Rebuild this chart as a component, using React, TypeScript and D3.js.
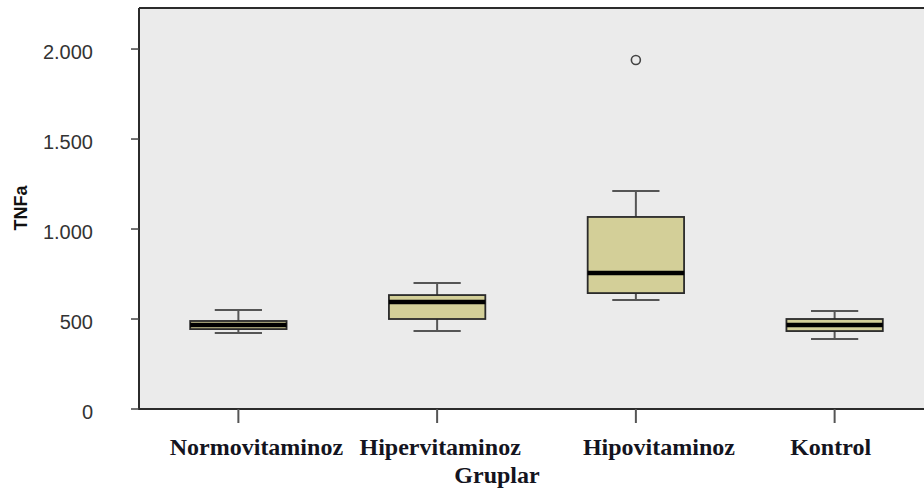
import { useEffect, useRef } from "react";
import * as d3 from "d3";

// group labels and box-plot stats
const groups = ["Normovitaminoz", "Hipervitaminoz", "Hipovitaminoz", "Kontrol"];
const whiskerLow = [422, 433, 606, 389];
const q1 = [444, 500, 644, 433];
const median = [467, 594, 756, 467];
const q3 = [489, 633, 1067, 500];
const whiskerHigh = [550, 700, 1211, 544];
const outliers = [[], [], [1939], []];
const yTicks = [0, 500, 1000, 1500, 2000];

// label nudges so text sits like the original
const labelDx = [18, 3, 23, -4];

const W = 924;
const H = 491;

export default function App() {
  const ref = useRef<SVGSVGElement>(null);

  useEffect(() => {
    document.body.style.margin = "0";
    if (!ref.current) return;
    const svg = d3.select(ref.current);
    svg.selectAll("*").remove();

    const left = 139, right = 934, top = 8, bottom = 409;

    const x = d3.scaleBand<string>().domain(groups).range([left, right]).padding(0);
    const y = d3.scaleLinear().domain([0, 2228]).range([bottom, top]);

    const fmt = (v: number) => d3.format(",")(v).replace(/,/g, ".");

    // plot background
    svg.append("rect")
      .attr("x", left).attr("y", top)
      .attr("width", right - left).attr("height", bottom - top)
      .attr("fill", "#ebebeb");

    // frame lines (top, left, bottom)
    svg.append("line").attr("x1", left).attr("x2", right).attr("y1", top).attr("y2", top)
      .attr("stroke", "#2b2b2b").attr("stroke-width", 2);
    svg.append("line").attr("x1", left).attr("x2", left).attr("y1", top).attr("y2", bottom)
      .attr("stroke", "#2b2b2b").attr("stroke-width", 2);
    svg.append("line").attr("x1", left - 1).attr("x2", right).attr("y1", bottom).attr("y2", bottom)
      .attr("stroke", "#2b2b2b").attr("stroke-width", 2);

    // y ticks
    const yt = svg.append("g");
    yt.selectAll("line").data(yTicks).join("line")
      .attr("x1", left - 8).attr("x2", left)
      .attr("y1", d => y(d)).attr("y2", d => y(d))
      .attr("stroke", "#444").attr("stroke-width", 1.5);
    yt.selectAll("text").data(yTicks).join("text")
      .attr("x", 93).attr("y", d => y(d) + 10)
      .attr("text-anchor", "end")
      .attr("font-family", "Liberation Sans, Arial, sans-serif")
      .attr("font-size", 20)
      .attr("fill", "#333")
      .text(d => fmt(d));

    // y title
    svg.append("text")
      .attr("transform", "translate(27,208) rotate(-90)")
      .attr("text-anchor", "middle")
      .attr("font-family", "Liberation Sans, Arial, sans-serif")
      .attr("font-weight", "bold")
      .attr("font-size", 18)
      .attr("fill", "#111")
      .text("TNFa");

    const bw = x.bandwidth() * 0.485;
    const cw = bw * 0.49;

    const g = svg.append("g").selectAll("g").data(groups).join("g")
      .attr("transform", d => `translate(${(x(d) as number) + x.bandwidth() / 2},0)`);

    // x tick
    g.append("line").attr("x1", 0).attr("x2", 0).attr("y1", bottom).attr("y2", bottom + 14)
      .attr("stroke", "#555").attr("stroke-width", 2);

    // whiskers
    g.append("line").attr("x1", 0).attr("x2", 0)
      .attr("y1", (_, i) => y(whiskerLow[i])).attr("y2", (_, i) => y(q1[i]))
      .attr("stroke", "#555").attr("stroke-width", 2);
    g.append("line").attr("x1", 0).attr("x2", 0)
      .attr("y1", (_, i) => y(q3[i])).attr("y2", (_, i) => y(whiskerHigh[i]))
      .attr("stroke", "#555").attr("stroke-width", 2);
    g.append("line").attr("x1", -cw / 2).attr("x2", cw / 2)
      .attr("y1", (_, i) => y(whiskerLow[i])).attr("y2", (_, i) => y(whiskerLow[i]))
      .attr("stroke", "#555").attr("stroke-width", 2);
    g.append("line").attr("x1", -cw / 2).attr("x2", cw / 2)
      .attr("y1", (_, i) => y(whiskerHigh[i])).attr("y2", (_, i) => y(whiskerHigh[i]))
      .attr("stroke", "#555").attr("stroke-width", 2);

    // box
    g.append("rect")
      .attr("x", -bw / 2).attr("width", bw)
      .attr("y", (_, i) => y(q3[i]))
      .attr("height", (_, i) => y(q1[i]) - y(q3[i]))
      .attr("fill", "#d3cf98")
      .attr("stroke", "#2a2a2a").attr("stroke-width", 1.8);

    // median
    g.append("line").attr("x1", -bw / 2).attr("x2", bw / 2)
      .attr("y1", (_, i) => y(median[i])).attr("y2", (_, i) => y(median[i]))
      .attr("stroke", "#000").attr("stroke-width", 4.5);

    // outliers
    g.each(function (_, i) {
      d3.select(this).selectAll("circle").data(outliers[i]).join("circle")
        .attr("cx", 0).attr("cy", d => y(d)).attr("r", 4.5)
        .attr("fill", "none").attr("stroke", "#444").attr("stroke-width", 1.6);
    });

    // x labels
    g.append("text")
      .attr("x", (_, i) => labelDx[i]).attr("y", 455)
      .attr("text-anchor", "middle")
      .attr("font-family", "Liberation Serif, Times New Roman, serif")
      .attr("font-weight", "bold")
      .attr("font-size", 24)
      .attr("fill", "#141420")
      .text(d => d);

    svg.append("text")
      .attr("x", 497).attr("y", 483)
      .attr("text-anchor", "middle")
      .attr("font-family", "Liberation Serif, Times New Roman, serif")
      .attr("font-weight", "bold")
      .attr("font-size", 24)
      .attr("fill", "#141420")
      .text("Gruplar");
  }, []);

  return (
    <svg ref={ref} width={W} height={H}
      style={{ display: "block", position: "absolute", left: 0, top: 0, background: "#fff" }} />
  );
}
